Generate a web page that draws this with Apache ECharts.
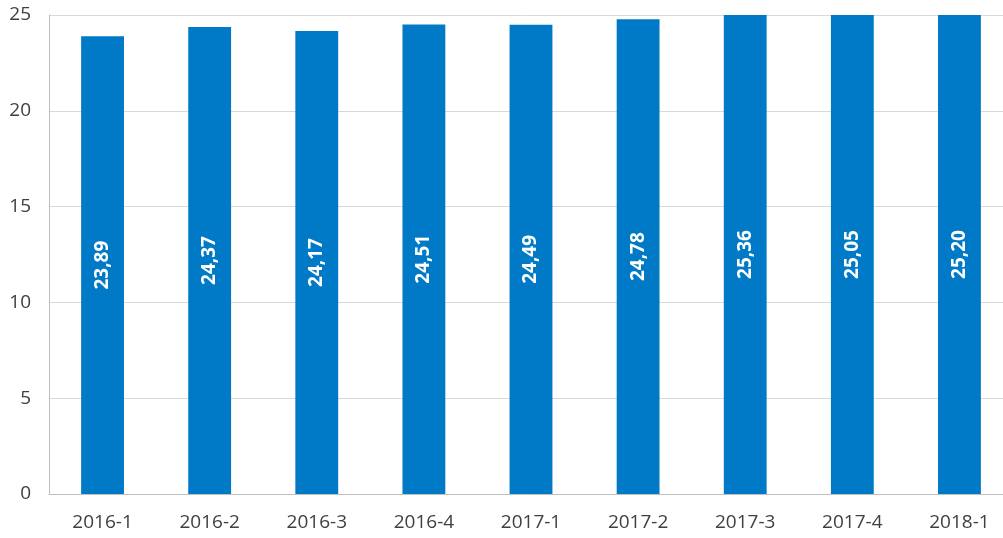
<!DOCTYPE html>
<html>
<head>
<meta charset="utf-8">
<script src="https://cdn.jsdelivr.net/npm/echarts@6/dist/echarts.min.js"></script>
<style>
  html, body { margin: 0; padding: 0; background: #fff; }
  #chart { width: 1003px; height: 538px; }
</style>
</head>
<body>
<div id="chart"></div>
<script>
  // categories and values
  var categories = ['2016-1', '2016-2', '2016-3', '2016-4', '2017-1', '2017-2', '2017-3', '2017-4', '2018-1'];
  var values = [23.89, 24.37, 24.17, 24.51, 24.49, 24.78, 25.36, 25.05, 25.20];
  var yTicks = { min: 0, max: 25, interval: 5 };

  var chart = echarts.init(document.getElementById('chart'));
  chart.setOption({
    animation: false,
    // plot area runs a bit past the right edge, like the original
    grid: { left: 49, right: -10, top: 15, bottom: 44, outerBoundsMode: 'none', containLabel: false },
    xAxis: {
      type: 'category',
      data: categories,
      axisLine: { lineStyle: { color: '#bfbfbf' } },
      axisTick: { show: false },
      axisLabel: { color: '#404040', fontSize: 19, fontFamily: 'Open Sans', margin: 19 }
    },
    yAxis: {
      type: 'value',
      min: yTicks.min,
      max: yTicks.max,
      interval: yTicks.interval,
      axisLine: { show: true, lineStyle: { color: '#bfbfbf' } },
      axisTick: { show: false },
      splitLine: { lineStyle: { color: '#d9d9d9' } },
      axisLabel: { color: '#404040', fontSize: 19, fontFamily: 'Open Sans', margin: 18 }
    },
    series: [{
      type: 'bar',
      data: values,
      barWidth: '40%',
      clip: true,
      itemStyle: { color: '#0079c6' },
      label: {
        show: true,
        position: 'inside',
        rotate: 90,
        color: '#fff',
        fontWeight: 'bold',
        fontSize: 19,
        fontFamily: 'Open Sans',
        formatter: function (p) { return p.value.toFixed(2).replace('.', ','); }
      }
    }]
  });
</script>
</body>
</html>
